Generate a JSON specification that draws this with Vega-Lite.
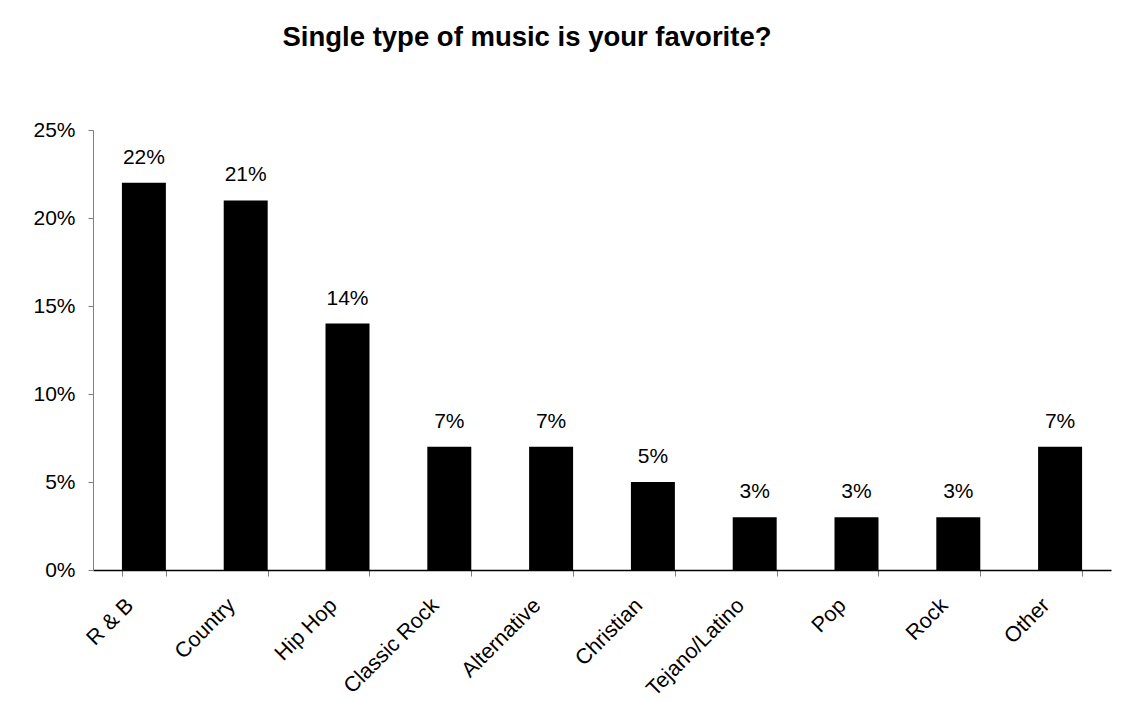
{
  "$schema": "https://vega.github.io/schema/vega-lite/v6.json",
  "autosize": {"type": "none"},
  "padding": {"left": 93, "top": 130, "right": 11, "bottom": 155},
  "width": 1018,
  "height": 440,
  "background": "white",
  "config": {
    "font": "Liberation Sans",
    "view": {"stroke": null}
  },
  "title": {
    "text": "Single type of music is your favorite?",
    "fontSize": 27.5,
    "fontWeight": "bold",
    "color": "black",
    "anchor": "middle",
    "frame": "group",
    "dx": -75,
    "offset": 68
  },
  "data": {
    "values": [
      {"genre": "R & B", "pct": 0.22},
      {"genre": "Country", "pct": 0.21},
      {"genre": "Hip Hop", "pct": 0.14},
      {"genre": "Classic Rock", "pct": 0.07},
      {"genre": "Alternative", "pct": 0.07},
      {"genre": "Christian", "pct": 0.05},
      {"genre": "Tejano/Latino", "pct": 0.03},
      {"genre": "Pop", "pct": 0.03},
      {"genre": "Rock", "pct": 0.03},
      {"genre": "Other", "pct": 0.07}
    ]
  },
  "encoding": {
    "x": {
      "field": "genre",
      "type": "nominal",
      "sort": null,
      "scale": {"paddingInner": 0.568, "paddingOuter": 0.284},
      "axis": {
        "title": null,
        "labelAngle": -45,
        "labelAlign": "right",
        "labelBaseline": "middle",
        "labelFontSize": 21.5,
        "labelColor": "black",
        "labelPadding": 26,
        "labelOffset": -14,
        "tickBand": "extent",
        "tickSize": 6,
        "tickColor": "#808080",
        "domainColor": "black",
        "domainWidth": 1.5,
        "grid": false
      }
    },
    "y": {
      "field": "pct",
      "type": "quantitative",
      "scale": {"domain": [0, 0.25], "nice": false},
      "axis": {
        "title": null,
        "values": [0, 0.05, 0.1, 0.15, 0.2, 0.25],
        "format": ".0%",
        "labelFontSize": 21,
        "labelColor": "black",
        "labelPadding": 13,
        "tickSize": 5,
        "tickColor": "#808080",
        "domainColor": "#808080",
        "grid": false
      }
    }
  },
  "layer": [
    {"mark": {"type": "bar", "color": "black"}},
    {
      "mark": {"type": "text", "baseline": "alphabetic", "dy": -19, "fontSize": 21, "color": "black"},
      "encoding": {"text": {"field": "pct", "type": "quantitative", "format": ".0%"}}
    }
  ]
}
